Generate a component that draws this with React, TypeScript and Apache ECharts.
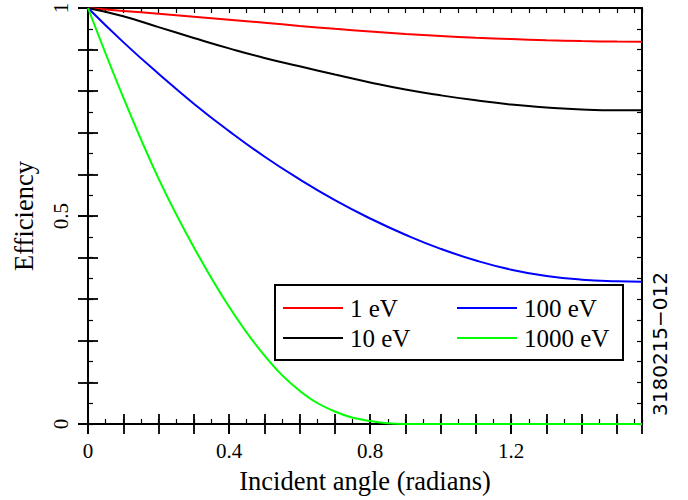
import React, { useEffect, useRef } from "react";
import * as echarts from "echarts";

const angles = [0, 0.1, 0.2, 0.3, 0.4, 0.5, 0.6, 0.7, 0.8, 0.9, 1.0, 1.1, 1.2, 1.3, 1.4, 1.5, 1.5708];
const eff1eV = [1.0, 0.993, 0.986, 0.979, 0.972, 0.9645, 0.957, 0.95, 0.9435, 0.9375, 0.9325, 0.9285, 0.9255, 0.9225, 0.9205, 0.9193, 0.919];
const eff10eV = [1.0, 0.98, 0.954, 0.928, 0.903, 0.88, 0.86, 0.84, 0.821, 0.804, 0.79, 0.778, 0.768, 0.761, 0.756, 0.754, 0.754];
const eff100eV = [1.0, 0.918, 0.842, 0.77, 0.704, 0.643, 0.588, 0.538, 0.494, 0.455, 0.421, 0.393, 0.371, 0.356, 0.347, 0.343, 0.342];
const eff1000eV = [1.0, 0.785, 0.59, 0.425, 0.282, 0.165, 0.08, 0.03, 0.007, 0, 0, 0, 0, 0, 0, 0, 0];

const seriesNames = ["1 eV", "10 eV", "100 eV", "1000 eV"];
const seriesColors = ["#ff0000", "#000000", "#0000ff", "#00ff00"];
const xTickLabels = ["0", "0.4", "0.8", "1.2"];
const yTickLabels = ["0", "0.5", "1"];
const xMax = Math.PI / 2;
const stamp = "3180215\u2212012";

const serif = "Liberation Serif";

export default function App() {
  const ref = useRef<HTMLDivElement>(null);
  useEffect(() => {
    if (!ref.current) return;
    const chart = echarts.init(ref.current, null, { renderer: "svg" });
    const values = [eff1eV, eff10eV, eff100eV, eff1000eV];
    const grid = { left: 88, top: 8, width: 554, height: 416, outerBoundsMode: "none", containLabel: false };

    const baseX = (extra: any) => ({
      type: "value",
      min: 0,
      max: xMax,
      splitLine: { show: false },
      axisLabel: { show: false },
      axisLine: { show: false },
      axisTick: { show: false },
      ...extra,
    });
    const baseY = (extra: any) => ({
      type: "value",
      min: 0,
      max: 1,
      splitLine: { show: false },
      axisLabel: { show: false },
      axisLine: { show: false },
      axisTick: { show: false },
      ...extra,
    });
    const line = { show: true, onZero: false, lineStyle: { color: "#000", width: 2 } };
    const shortTick = { show: true, inside: true, length: 5, lineStyle: { color: "#000", width: 1.2 } };
    const longTick = { show: true, inside: true, length: 10, lineStyle: { color: "#000", width: 1.8 } };
    const outTick = { show: true, inside: false, length: 10, lineStyle: { color: "#000", width: 1.8 } };

    const isMult = (v: number, step: number) => Math.abs(v / step - Math.round(v / step)) < 1e-6;

    const xAxes = [
      baseX({
        position: "bottom",
        interval: 0.05,
        axisLine: line,
        axisTick: shortTick,
        name: "Incident angle (radians)",
        nameLocation: "middle",
        nameGap: 43,
        nameMoveOverlap: false,
        nameTextStyle: { fontFamily: serif, fontSize: 26.5, color: "#000" },
      }),
      baseX({ position: "bottom", interval: 0.1, axisTick: longTick }),
      baseX({
        position: "bottom",
        interval: 0.4,
        axisTick: outTick,
        axisLabel: {
          show: true,
          margin: 16,
          showMaxLabel: false,
          fontFamily: serif,
          fontSize: 21,
          color: "#000",
          formatter: (v: number) => {
            if (!isMult(v, 0.4)) return "";
            const i = Math.round(v / 0.4);
            return xTickLabels[i] ?? "";
          },
        },
      }),
      baseX({ position: "top", interval: 0.05, axisLine: line, axisTick: shortTick }),
      baseX({ position: "top", interval: 0.1, axisTick: longTick }),
    ];
    const yAxes = [
      baseY({
        position: "left",
        interval: 0.05,
        axisLine: line,
        axisTick: shortTick,
        name: "Efficiency",
        nameLocation: "middle",
        nameRotate: 90,
        nameGap: 51,
        nameMoveOverlap: false,
        nameTextStyle: { fontFamily: serif, fontSize: 26.5, color: "#000" },
      }),
      baseY({ position: "left", interval: 0.1, axisTick: longTick }),
      baseY({
        position: "left",
        interval: 0.5,
        axisTick: outTick,
        axisLabel: {
          show: true,
          rotate: 90,
          margin: 17,
          fontFamily: serif,
          fontSize: 21,
          color: "#000",
          formatter: (v: number) => {
            if (!isMult(v, 0.5)) return "";
            return yTickLabels[Math.round(v / 0.5)] ?? "";
          },
        },
      }),
      baseY({ position: "right", interval: 0.05, axisLine: line, axisTick: shortTick }),
      baseY({ position: "right", interval: 0.1, axisTick: longTick }),
    ];

    const series = seriesNames.map((name, k) => ({
      name,
      type: "line",
      xAxisIndex: 0,
      yAxisIndex: 0,
      data: angles.map((a, i) => [a, values[k][i]]),
      symbol: "none",
      smooth: k === 3 ? 0.4 : 0.5,
      color: seriesColors[k],
      lineStyle: { color: seriesColors[k], width: 2 },
      z: 2,
    }));

    const legendCommon = {
      orient: "vertical",
      padding: 0,
      itemGap: 0,
      itemWidth: 60,
      itemHeight: 2,
      icon: "rect",
      selectedMode: false,
      textStyle: { fontFamily: serif, fontSize: 25, color: "#000", lineHeight: 30, padding: [0, 0, 0, 2] },
      z: 5,
    };

    chart.setOption({
      animation: false,
      backgroundColor: "#fff",
      grid,
      xAxis: xAxes,
      yAxis: yAxes,
      legend: [
        { ...legendCommon, left: 283, top: 293, data: [seriesNames[0], seriesNames[1]] },
        { ...legendCommon, left: 457, top: 293, data: [seriesNames[2], seriesNames[3]] },
      ],
      graphic: [
        {
          type: "rect",
          z: 3,
          shape: { x: 275, y: 285, width: 348, height: 75 },
          style: { fill: "#fff", stroke: "#000", lineWidth: 2 },
        },
        {
          type: "text",
          z: 3,
          x: 660,
          y: 344,
          rotation: Math.PI / 2,
          style: {
            text: stamp,
            fontFamily: "DejaVu Sans",
            fontSize: 20,
            fill: "#000",
            textAlign: "center",
            textVerticalAlign: "middle",
          },
        },
      ],
      series,
    });
    return () => chart.dispose();
  }, []);
  return <div ref={ref} style={{ position: "absolute", left: 0, top: 0, width: 688, height: 500 }} />;
}
